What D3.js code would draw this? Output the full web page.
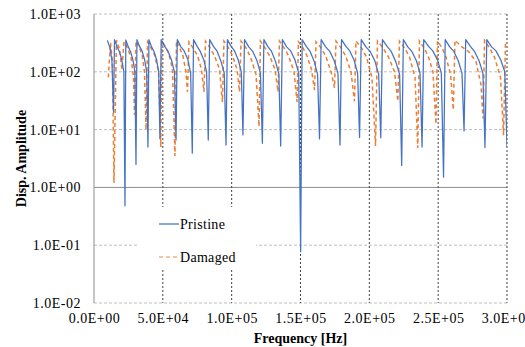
<!DOCTYPE html>
<html>
<head>
<meta charset="utf-8">
<script src="https://cdn.jsdelivr.net/npm/d3@7"></script>
<style>
  html, body { margin: 0; padding: 0; background: #fff; }
  svg { display: block; }
  svg text { font-family: 'Liberation Serif', 'Times New Roman', Tinos, 'DejaVu Serif', serif !important; fill: #000; }
</style>
</head>
<body>
<svg id="chart" width="525" height="347"></svg>
<script>
// ---- Data ----
const pristineFreq = [
  9700, 11500, 13000, 14200,
  14900, 16700, 18400, 20200, 21700, 22500,
  23100, 24900, 26500, 28300, 29700, 30500,
  31200, 33100, 34900, 36800, 38300, 39200,
  39900, 41800, 43600, 45500, 47000, 47900,
  48800, 51400, 53800, 56300, 58400, 59600,
  60500, 63100, 65500, 68100, 70200, 71400,
  72300, 74900, 77200, 79800, 81800, 83000,
  84000, 86900, 89500, 92300, 94600, 95900,
  96900, 99600, 102100, 104800, 107000, 108200,
  109300, 112400, 115300, 118400, 120900, 122300,
  123400, 126300, 129000, 131900, 134300, 135600,
  136800, 139900, 142900, 146000, 148700, 150100,
  151200, 154200, 157000, 160000, 162400, 163800,
  165000, 168300, 171300, 174500, 177200, 178700,
  179800, 183000, 185800, 188900, 191500, 192900,
  194100, 197500, 200600, 204000, 206800, 208300,
  209500, 212900, 215900, 219200, 222000, 223500,
  224700, 227900, 230900, 234200, 236800, 238300,
  239500, 243000, 246100, 249500, 252300, 253900,
  255100, 258400, 261400, 264600, 267300, 268800,
  270000, 273400, 276400, 279700, 282500, 284000,
  285300, 288800, 292000, 295500, 298400, 300000
];
const pristineAmp = [
  350, 265, 160, 20,
  360, 275, 225, 160, 100, 0.48,
  355, 270, 225, 160, 100, 2.5,
  360, 275, 230, 160, 100, 5.0,
  360, 270, 225, 160, 100, 7.0,
  360, 275, 225, 160, 100, 6.6,
  360, 270, 230, 165, 95, 3.9,
  360, 275, 225, 160, 100, 6.6,
  360, 272, 225, 150, 95, 5.4,
  360, 275, 230, 160, 100, 8.1,
  360, 270, 225, 155, 95, 5.8,
  360, 272, 225, 150, 90, 5.2,
  360, 270, 230, 160, 95, 0.077,
  360, 275, 225, 150, 90, 6.9,
  360, 270, 225, 155, 95, 5.4,
  360, 275, 230, 160, 95, 7.3,
  360, 270, 225, 155, 90, 7.2,
  360, 275, 225, 150, 90, 2.4,
  360, 270, 225, 155, 95, 5.0,
  360, 275, 230, 160, 95, 1.5,
  360, 270, 225, 155, 95, 9.5,
  360, 275, 225, 155, 95, 4.9,
  360, 270, 230, 160, 100, 5.0
];
const damagedFreq = [
  10400, 12000, 13400, 14500,
  16300, 18500, 20300,
  21800, 24300, 26900, 28700, 29400,
  30500, 32700, 34900, 36700, 37800,
  38900, 41400, 43900, 46900, 48500,
  49400, 51900, 54500, 57000, 58800,
  59900, 62100, 64600, 66800, 67900,
  69000, 71900, 75200, 78100, 79900,
  81000, 84300, 87500, 91200, 93300,
  94400, 97700, 100600, 103900, 105700,
  106800, 110400, 113700, 117700, 119900,
  120900, 124200, 127500, 131500, 133700,
  134700, 138000, 141300, 145300, 147500,
  148500, 151800, 154700, 158000, 160200,
  161300, 164900, 168200, 172200, 174700,
  175800, 179400, 182700, 186700, 189200,
  190300, 194300, 197900, 201900, 204500,
  205900, 209900, 213900, 218300, 220700,
  221900, 225500, 229200, 233200, 235200,
  236400, 239700, 243000, 246200, 248400,
  249500, 252800, 255700, 259000, 261000,
  262200, 267300, 272400, 277500, 281100, 282600,
  283700, 287300, 290900, 295300, 297500,
  298900, 300000
];
const damagedAmp = [
  80, 320, 150, 1.2,
  350, 250, 110,
  330, 260, 180, 80, 18,
  340, 270, 200, 100, 10,
  330, 260, 200, 100, 5.0,
  340, 270, 200, 110, 3.5,
  340, 260, 190, 100, 45,
  330, 260, 190, 110, 45,
  340, 260, 190, 110, 30,
  340, 260, 190, 110, 45,
  340, 260, 180, 90, 11.3,
  340, 260, 190, 110, 45,
  340, 260, 190, 100, 30,
  330, 260, 190, 110, 48,
  330, 260, 190, 100, 53,
  340, 260, 190, 100, 31,
  340, 260, 180, 80, 5.2,
  340, 260, 180, 100, 31,
  340, 260, 180, 80, 4.8,
  340, 260, 180, 100, 12.5,
  340, 260, 180, 90, 22,
  350, 270, 220, 150, 60, 15.6,
  350, 260, 180, 80, 8.0,
  330, 320
];
const seriesNames = ["Pristine", "Damaged"];
const xTickValues = [0, 50000, 100000, 150000, 200000, 250000, 300000];
const xTickLabels = ["0.0E+00", "5.0E+04", "1.0E+05", "1.5E+05", "2.0E+05", "2.5E+05", "3.0E+05"];
const yTickValues = [1e-2, 1e-1, 1e0, 1e1, 1e2, 1e3];
const yTickLabels = ["1.0E-02", "1.0E-01", "1.0E+00", "1.0E+01", "1.0E+02", "1.0E+03"];

// ---- Layout ----
const FONT = "'Liberation Serif', 'Times New Roman', Tinos, 'DejaVu Serif', serif";
const svg = d3.select("#chart");
const L = 94, R = 507, T = 14, B = 303;
const x = d3.scaleLinear().domain([0, 300000]).range([L, R]);
const y = d3.scaleLog().domain([1e-2, 1e3]).range([B, T]);

// horizontal gridlines
svg.append("g").selectAll("line").data(yTickValues).join("line")
  .attr("x1", L).attr("x2", R)
  .attr("y1", d => y(d)).attr("y2", d => y(d))
  .attr("stroke", d => d === 1 ? "#8c8c8c" : "#bfbfbf")
  .attr("stroke-width", 1)
  .attr("stroke-dasharray", d => d === 1 ? null : "3,2");

// vertical gridlines
svg.append("g").selectAll("line").data(xTickValues.filter(v => v > 0)).join("line")
  .attr("x1", d => x(d)).attr("x2", d => x(d))
  .attr("y1", T).attr("y2", B)
  .attr("stroke", "#404040")
  .attr("stroke-width", 1)
  .attr("stroke-dasharray", "2,2");

// y axis line
svg.append("line").attr("x1", L).attr("x2", L).attr("y1", T).attr("y2", B)
  .attr("stroke", "#8c8c8c").attr("stroke-width", 1);

// axes labels via d3 axes
const yAxis = d3.axisLeft(y).tickValues(yTickValues)
  .tickFormat((d, i) => yTickLabels[i]).tickSize(0).tickPadding(13);
const gy = svg.append("g").attr("transform", `translate(${L},0)`).call(yAxis)
  .attr("font-family", FONT).attr("font-size", 14);
gy.select(".domain").remove();
gy.selectAll("text").attr("fill", "#000").style("letter-spacing", "0.5px");

const xAxis = d3.axisBottom(x).tickValues(xTickValues)
  .tickFormat((d, i) => xTickLabels[i]).tickSize(0).tickPadding(10);
const gx = svg.append("g").attr("transform", `translate(0,${B})`).call(xAxis)
  .attr("font-family", FONT).attr("font-size", 14);
gx.select(".domain").remove();
gx.selectAll("text").attr("fill", "#000").style("letter-spacing", "0.5px");

// lines
svg.append("clipPath").attr("id", "clip").append("rect")
  .attr("x", L).attr("y", T).attr("width", R - L).attr("height", B - T);
const line = d3.line().x(d => x(d[0])).y(d => y(d[1]));
const pristine = pristineFreq.map((f, i) => [f, pristineAmp[i]]);
const damaged = damagedFreq.map((f, i) => [f, damagedAmp[i]]);

svg.append("path").datum(damaged).attr("d", line)
  .attr("fill", "none").attr("stroke", "#ED7D31").attr("stroke-width", 1.5)
  .attr("stroke-dasharray", "4,3").attr("clip-path", "url(#clip)");
svg.append("path").datum(pristine).attr("d", line)
  .attr("fill", "none").attr("stroke", "#4472C4").attr("stroke-width", 1.25)
  .attr("stroke-linejoin", "round").attr("clip-path", "url(#clip)");

// legend
const lg = svg.append("g").attr("font-family", FONT).attr("font-size", 14);
lg.append("rect").attr("x", 138).attr("y", 207).attr("width", 118).attr("height", 61).attr("fill", "#fff");
lg.append("line").attr("x1", 159).attr("x2", 179).attr("y1", 224).attr("y2", 224)
  .attr("stroke", "#4472C4").attr("stroke-width", 1.25);
lg.append("text").attr("x", 180).attr("y", 229).style("letter-spacing", "0.3px").text(seriesNames[0]);
lg.append("line").attr("x1", 159).attr("x2", 179).attr("y1", 257).attr("y2", 257)
  .attr("stroke", "#F4B183").attr("stroke-width", 1.5).attr("stroke-dasharray", "4,3");
lg.append("text").attr("x", 180).attr("y", 262).style("letter-spacing", "0.3px").text(seriesNames[1]);

// axis titles
svg.append("text").attr("x", (L + R) / 2).attr("y", 343).attr("text-anchor", "middle")
  .attr("font-family", FONT).attr("font-size", 14).attr("font-weight", "bold").text("Frequency [Hz]");
svg.append("text").attr("transform", `translate(26,${(T + B) / 2}) rotate(-90)`)
  .attr("text-anchor", "middle")
  .attr("font-family", FONT).attr("font-size", 14).attr("font-weight", "bold").text("Disp. Amplitude");
</script>
</body>
</html>
